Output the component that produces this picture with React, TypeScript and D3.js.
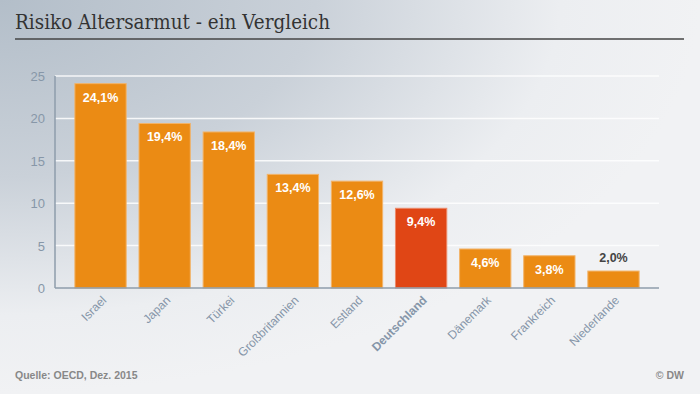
import React from "react";
import * as d3 from "d3";

const categories = ["Israel", "Japan", "Türkei", "Großbritannien", "Estland", "Deutschland", "Dänemark", "Frankreich", "Niederlande"];
const values = [24.1, 19.4, 18.4, 13.4, 12.6, 9.4, 4.6, 3.8, 2.0];
const highlight = "Deutschland";
const yTicks = [0, 5, 10, 15, 20, 25];
const title = "Risiko Altersarmut - ein Vergleich";
const source = "Quelle: OECD, Dez. 2015";
const credit = "© DW";

const W = 700, H = 394;
const plot = { left: 55, right: 659, top: 76, bottom: 288 };

export default function App() {
  const x = d3.scaleBand<string>().domain(categories).range([plot.left, plot.right]).paddingInner(0.2).paddingOuter(0.31);
  const y = d3.scaleLinear().domain([0, 25]).range([plot.bottom, plot.top]);
  const fmt = (v: number) => v.toFixed(1).replace(".", ",") + "%";
  const sans = "'Liberation Sans', Arial, sans-serif";
  return (
    <svg width={W} height={H} style={{ position: "absolute", left: 0, top: 0, display: "block" }}>
      <defs>
        <radialGradient id="bg" cx="0" cy="0" r="1" gradientUnits="objectBoundingBox">
          <stop offset="0" stopColor="#b3bec9" />
          <stop offset="0.45" stopColor="#cad1d9" />
          <stop offset="0.8" stopColor="#eceef1" />
          <stop offset="1" stopColor="#f1f2f4" />
        </radialGradient>
      </defs>
      <rect x={0} y={0} width={W} height={H} fill="url(#bg)" />
      <text x={15} y={29} fontFamily="'DejaVu Serif', Georgia, serif" fontSize={19.5} fill="#333" textLength={315} lengthAdjust="spacingAndGlyphs">{title}</text>
      <line x1={15} x2={684} y1={39} y2={39} stroke="#444" strokeWidth={1.5} />
      {yTicks.filter(t => t > 0).map(t => (
        <line key={"g" + t} x1={plot.left} x2={plot.right} y1={y(t)} y2={y(t)} stroke="#ffffff" strokeWidth={1.5} opacity={0.85} />
      ))}
      {yTicks.map(t => (
        <text key={"t" + t} x={45} y={y(t) + 5} textAnchor="end" fontFamily={sans} fontSize={13} fill="#8797a8">{t}</text>
      ))}
      {categories.map((c, i) => {
        const v = values[i];
        const bx = x(c)!;
        const bw = x.bandwidth();
        const by = y(v);
        const inside = v > 3;
        return (
          <g key={c}>
            <rect x={bx} y={by} width={bw} height={plot.bottom - by} fill={c === highlight ? "#e04615" : "#eb8b14"} stroke={c === highlight ? "#ec8a6a" : "#f2b46a"} strokeWidth={1} />
            <text x={bx + bw / 2} y={inside ? by + 18 : by - 9} textAnchor="middle" fontFamily={sans} fontWeight="bold" fontSize={12.5} fill={inside ? "#ffffff" : "#444"}>{fmt(v)}</text>
            <text transform={`translate(${bx + bw / 2 + 6.5},${plot.bottom + 13}) rotate(-45)`} textAnchor="end" fontFamily={sans} fontSize={12} fontWeight={c === highlight ? "bold" : "normal"} fill="#8595a8">{c}</text>
          </g>
        );
      })}
      <line x1={plot.left} x2={plot.left} y1={plot.top} y2={plot.bottom} stroke="#8e9cab" strokeWidth={1.5} />
      <line x1={plot.left} x2={plot.right} y1={plot.bottom} y2={plot.bottom} stroke="#8e9cab" strokeWidth={1.5} />
      <text x={15} y={379} fontFamily={sans} fontWeight="bold" fontSize={10.5} fill="#888">{source}</text>
      <text x={684} y={379} textAnchor="end" fontFamily={sans} fontWeight="bold" fontSize={10.5} fill="#888">{credit}</text>
    </svg>
  );
}
